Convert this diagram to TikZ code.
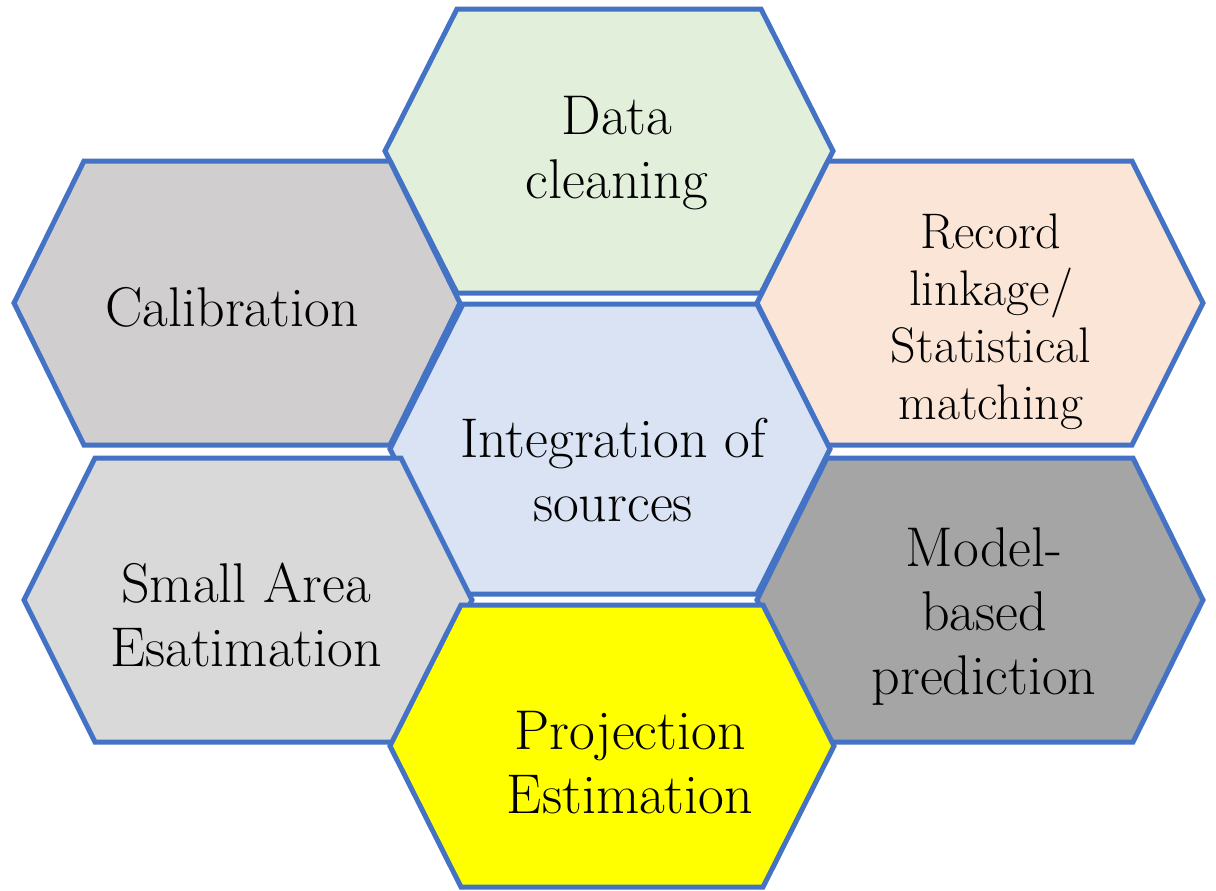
\documentclass[tikz,border=0pt]{standalone}
\usetikzlibrary{calc}

\definecolor{hexblue}{HTML}{4472C4}
\definecolor{cleangreen}{HTML}{E2EFDA}
\definecolor{calibgray}{HTML}{D0CECE}
\definecolor{linkpeach}{HTML}{FBE5D6}
\definecolor{integblue}{HTML}{DAE3F3}
\definecolor{smallgray}{HTML}{D9D9D9}
\definecolor{modelgray}{HTML}{A5A5A5}
\definecolor{projyellow}{HTML}{FFFF00}

% hexagon cell: centre x, centre y, half width, half top edge, half height, fill
\newcommand{\hexcell}[6]{%
\draw[cellline, fill=#6] (#1-#3,#2) -- (#1-#4,#2-#5) -- (#1+#4,#2-#5)
  -- (#1+#3,#2) -- (#1+#4,#2+#5) -- (#1-#4,#2+#5) -- cycle;}

\begin{document}
\begin{tikzpicture}[x=0.5pt, y=-0.5pt,
  cellline/.style={draw=hexblue, line width=2.5pt},
  celltext/.style={align=center, inner sep=0pt, font=\fontsize{28}{32}\selectfont}]
\useasboundingbox (0,0) rectangle (1216,890);

\hexcell{609}{151}{224}{152}{142}{cleangreen}
\hexcell{237}{303}{223}{153}{142}{calibgray}
\hexcell{980}{303}{223}{152}{142}{linkpeach}
\hexcell{610}{449}{220}{147}{145}{integblue}
\hexcell{248}{600}{224}{153}{142}{smallgray}
\hexcell{980}{600}{223}{153}{142}{modelgray}
\hexcell{612}{746}{222}{151}{141}{projyellow}

\node[celltext] (clean) at (617,153) {Data\\cleaning};
\node[celltext] (calib) at (232,307) {Calibration};
\node[celltext, font=\fontsize{25}{28.5}\selectfont] (link) at (991,322)
  {Record\\linkage/\\Statistical\\matching};
\node[celltext] (integ) at (613,470) {Integration of\\sources};
\node[celltext] (sae) at (246,615) {Small Area\\Esatimation};
\node[celltext] (model) at (984,617) {Model-\\based\\prediction};
\node[celltext] (proj) at (630,763) {Projection\\Estimation};
\end{tikzpicture}
\end{document}
